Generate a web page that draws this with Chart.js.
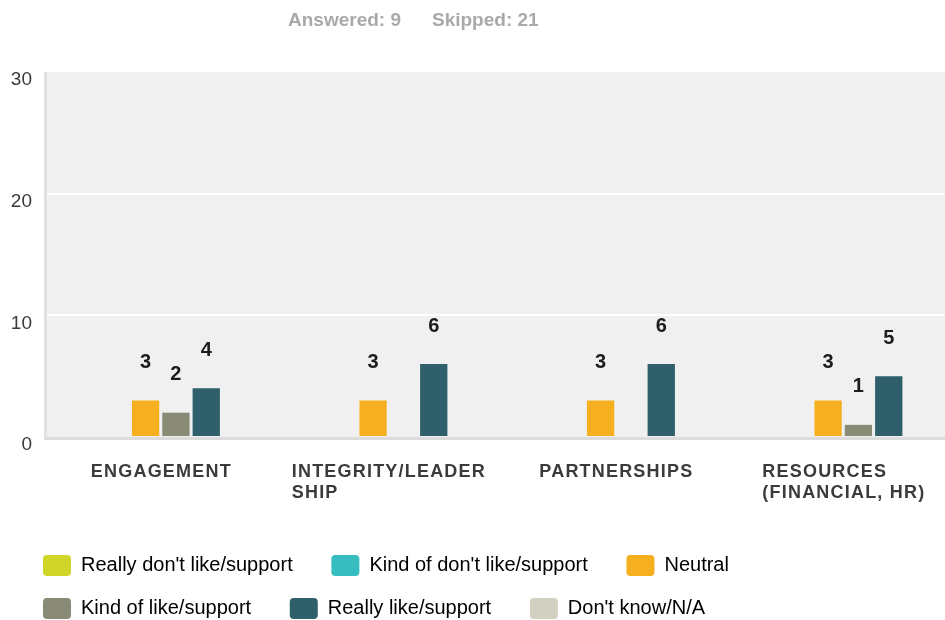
<!DOCTYPE html>
<html>
<head>
<meta charset="utf-8">
<script src="https://cdn.jsdelivr.net/npm/chart.js@4/dist/chart.umd.min.js"></script>
<style>
  body { margin: 0; background: #fff; overflow: hidden; font-family: "Liberation Sans", Arial, sans-serif; }
  #wrap { position: relative; width: 960px; height: 629px; }
  .stat { position: absolute; top: 10px; font-size: 19px; line-height: 20px; font-weight: bold; color: #a9a9a9; }
</style>
</head>
<body>
<div id="wrap">
  <span class="stat" style="left:288px">Answered: 9</span>
  <span class="stat" style="left:432px">Skipped: 21</span>
  <canvas id="chart"></canvas>
</div>
<script>
'use strict'

const categories = [
    ['ENGAGEMENT'],
    ['INTEGRITY/LEADER', 'SHIP'],
    ['PARTNERSHIPS'],
    ['RESOURCES', '(FINANCIAL, HR)']
];

const seriesNames = [
    "Really don't like/support",
    "Kind of don't like/support",
    'Neutral',
    'Kind of like/support',
    'Really like/support',
    "Don't know/N/A"
];

const reallyDontLike = [0, 0, 0, 0];
const kindOfDontLike = [0, 0, 0, 0];
const neutral = [3, 3, 3, 3];
const kindOfLike = [2, 0, 0, 1];
const reallyLike = [4, 6, 6, 5];
const dontKnow = [0, 0, 0, 0];

const yMax = 30;
const yStep = 10;

const colors = ['#d1d52a', '#35bdc0', '#f6af1f', '#8a8b77', '#2e5f6b', '#d1d0c1'];
const seriesValues = [reallyDontLike, kindOfDontLike, neutral, kindOfLike, reallyLike, dontKnow];

const FONT = '"Liberation Sans", Arial, sans-serif';

// grey plot area with its left and bottom edges
const plotBackground = {
    id: 'plotBackground',
    beforeDraw(chart) {
        const {ctx, chartArea: a} = chart;
        ctx.save();
        ctx.fillStyle = '#f0f0f0';
        ctx.fillRect(a.left - 3, a.top, a.right - a.left + 3, a.bottom - a.top);
        ctx.fillStyle = '#e2e2e2';
        ctx.fillRect(a.left - 3, a.top, 3, a.bottom - a.top);
        ctx.fillStyle = '#dcdcdc';
        ctx.fillRect(a.left - 3, a.bottom, a.right - a.left + 3, 3);
        ctx.restore();
    }
};

// legend rows start in line with the plot's left edge
const legendShift = {
    id: 'legendShift',
    afterLayout(chart) {
        if (chart.legend) chart.legend.left = 21;
    }
};

// numbers above the bars
const valueLabels = {
    id: 'valueLabels',
    afterDatasetsDraw(chart) {
        const {ctx} = chart;
        ctx.save();
        ctx.font = 'bold 20px ' + FONT;
        ctx.fillStyle = '#1c1c1c';
        ctx.textAlign = 'center';
        ctx.textBaseline = 'middle';
        chart.data.datasets.forEach((ds, i) => {
            chart.getDatasetMeta(i).data.forEach((bar, j) => {
                const v = ds.data[j];
                if (v > 0) ctx.fillText(String(v), bar.x, bar.y - 38);
            });
        });
        ctx.restore();
    }
};

// category names: block centred under the group, lines left aligned
const categoryLabels = {
    id: 'categoryLabels',
    afterDraw(chart) {
        const {ctx} = chart;
        const xs = chart.scales.x;
        const spacing = 1.2;
        ctx.save();
        ctx.font = 'bold 18px ' + FONT;
        ctx.letterSpacing = spacing + 'px';
        ctx.fillStyle = '#3b3b3b';
        ctx.textAlign = 'left';
        ctx.textBaseline = 'middle';
        chart.data.labels.forEach((lines, i) => {
            const cx = xs.getPixelForValue(i);
            const w = Math.max(...lines.map(t => ctx.measureText(t).width - spacing));
            lines.forEach((t, k) => {
                ctx.fillText(t, cx - w / 2, chart.chartArea.bottom + 35 + k * 21.5);
            });
        });
        ctx.restore();
    }
};

new Chart(document.getElementById('chart'), {
    type: 'bar',
    data: {
        labels: categories,
        datasets: seriesNames.map((name, i) => ({
            label: name,
            data: seriesValues[i],
            backgroundColor: colors[i],
            borderWidth: 0,
            categoryPercentage: 0.8,
            barPercentage: 0.9
        }))
    },
    options: {
        responsive: true,
        maintainAspectRatio: false,
        animation: false,
        events: [],
        layout: {
            padding: {top: 72, left: 0, right: 3, bottom: 0}
        },
        plugins: {
            tooltip: {enabled: false},
            legend: {
                position: 'bottom',
                align: 'start',
                labels: {
                    boxWidth: 28,
                    boxHeight: 21,
                    useBorderRadius: true,
                    borderRadius: 4,
                    padding: 22,
                    color: '#262626',
                    font: {family: FONT, size: 20},
                    generateLabels(chart) {
                        return chart.data.datasets.map((ds, i) => ({
                            text: ds.label + '   ',
                            fillStyle: ds.backgroundColor,
                            strokeStyle: ds.backgroundColor,
                            lineWidth: 0,
                            borderRadius: 4,
                            hidden: false,
                            datasetIndex: i
                        }));
                    }
                }
            }
        },
        scales: {
            x: {
                grid: {display: false},
                border: {display: false},
                ticks: {display: false},
                afterFit(scale) { scale.height = 96; }
            },
            y: {
                min: 0,
                max: yMax,
                border: {display: false},
                grid: {
                    drawTicks: false,
                    lineWidth: 2,
                    color: c => (c.tick && c.tick.value > 0 && c.tick.value < yMax) ? '#ffffff' : 'rgba(0,0,0,0)'
                },
                ticks: {
                    stepSize: yStep,
                    padding: 15,
                    labelOffset: 8,
                    color: '#3a3a3a',
                    font: {family: FONT, size: 19}
                },
                afterFit(scale) { scale.width = 47; }
            }
        }
    },
    plugins: [plotBackground, legendShift, valueLabels, categoryLabels]
});
</script>
</body>
</html>
